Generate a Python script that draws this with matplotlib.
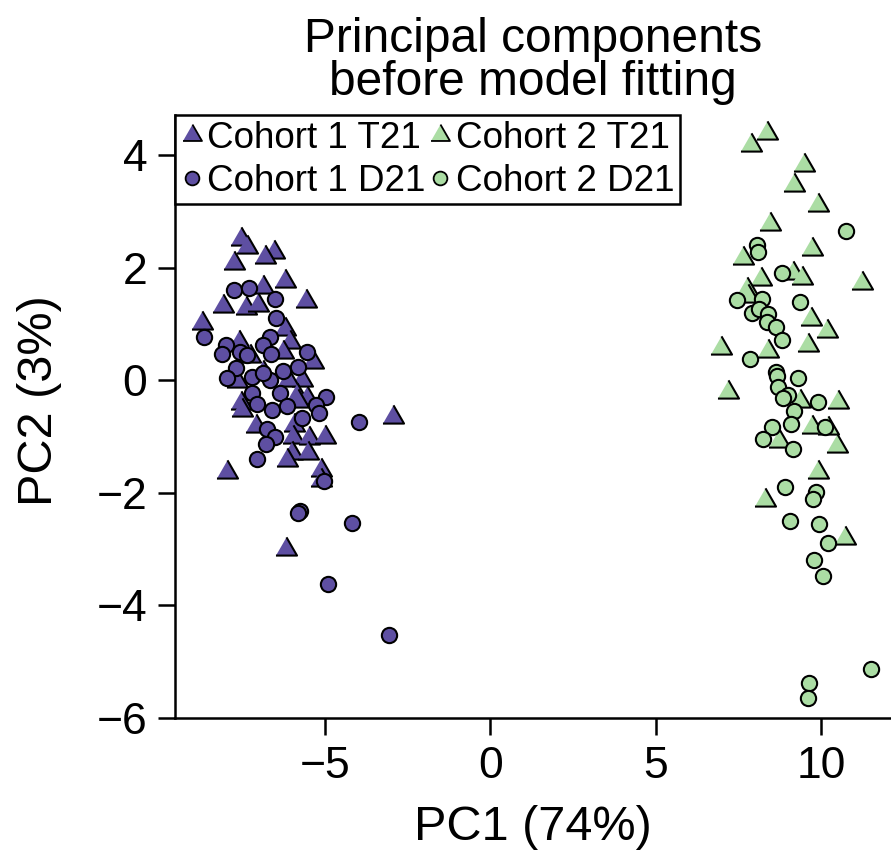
import numpy as np
import matplotlib
matplotlib.use('Agg')
import matplotlib.pyplot as plt
from matplotlib.lines import Line2D

plt.rcParams['font.family'] = ['Liberation Sans', 'DejaVu Sans']

# PCA scores
c1_t21_pc1 = [-7.53, -7.35, -6.53, -6.80, -7.74, -6.20, -6.86, -8.07, -7.38, -7.02,
              -5.56, -8.71, -6.20, -6.05, -7.59, -7.26, -6.26, -5.35, -6.86, -5.69,
              -6.11, -7.65, -5.84, -5.53, -7.53, -7.50, -5.81, -5.93, -7.08, -5.96,
              -5.47, -4.99, -2.93, -5.99, -5.50, -6.14, -7.95, -5.11, -5.11, -6.17]
c1_t21_pc2 = [2.50, 2.36, 2.27, 2.18, 2.08, 1.76, 1.65, 1.31, 1.28, 1.33,
              1.40, 1.01, 0.91, 0.67, 0.67, 0.43, 0.50, 0.32, 0.14, 0.00,
              0.00, -0.02, -0.27, -0.32, -0.41, -0.53, -0.37, -0.80, -0.82, -1.01,
              -1.03, -1.01, -0.66, -1.30, -1.30, -1.42, -1.63, -1.60, -1.78, -3.00]

c1_d21_pc1 = [-7.74, -7.29, -6.50, -6.47, -8.65, -6.65, -6.86, -7.98, -8.10, -7.56,
              -7.35, -6.62, -5.53, -5.81, -6.26, -7.68, -7.95, -7.20, -6.65, -6.86,
              -7.20, -6.35, -4.96, -7.05, -6.59, -6.14, -5.26, -5.17, -5.69, -6.74,
              -6.50, -6.77, -3.96, -7.05, -5.02, -5.75, -5.81, -4.17, -4.90, -3.05]
c1_d21_pc2 = [1.60, 1.63, 1.44, 1.10, 0.76, 0.76, 0.62, 0.62, 0.46, 0.50,
              0.44, 0.46, 0.50, 0.23, 0.16, 0.21, 0.04, 0.05, 0.00, 0.12,
              -0.23, -0.23, -0.30, -0.43, -0.53, -0.46, -0.44, -0.59, -0.67, -0.87,
              -1.01, -1.14, -0.75, -1.40, -1.79, -2.33, -2.36, -2.54, -3.62, -4.53]

c2_t21_pc1 = [8.38, 7.89, 9.50, 9.19, 9.92, 8.47, 9.74, 7.65, 11.25, 8.20,
              9.16, 9.44, 7.77, 7.80, 9.71, 10.19, 6.99, 8.41, 9.62, 7.20,
              9.37, 10.52, 9.74, 10.22, 8.74, 10.49, 9.92, 8.32, 10.73]
c2_t21_pc2 = [4.39, 4.17, 3.82, 3.46, 3.11, 2.77, 2.33, 2.17, 1.72, 1.79,
              1.90, 1.81, 1.62, 1.49, 1.08, 0.87, 0.57, 0.52, 0.62, -0.21,
              -0.37, -0.39, -0.83, -0.85, -1.08, -1.17, -1.63, -2.13, -2.81]

c2_d21_pc1 = [10.77, 8.07, 8.10, 8.83, 9.37, 7.47, 8.23, 7.92, 8.13, 8.41,
              8.38, 8.65, 8.83, 7.86, 8.65, 8.68, 9.31, 8.71, 9.01, 8.86,
              9.92, 9.19, 9.10, 8.53, 10.13, 8.26, 9.16, 8.92, 9.86, 9.77,
              9.07, 9.95, 10.22, 9.80, 10.07, 11.52, 9.65, 9.62]
c2_d21_pc2 = [2.65, 2.40, 2.27, 1.90, 1.39, 1.42, 1.44, 1.19, 1.26, 1.17,
              1.03, 0.94, 0.71, 0.37, 0.14, 0.07, 0.04, -0.12, -0.27, -0.32,
              -0.39, -0.55, -0.78, -0.83, -0.83, -1.05, -1.23, -1.90, -1.99, -2.11,
              -2.50, -2.56, -2.89, -3.20, -3.48, -5.13, -5.38, -5.65]

labels = ['Cohort 1 T21', 'Cohort 1 D21', 'Cohort 2 T21', 'Cohort 2 D21']
purple = '#5E4FA2'
green = '#ABDDA4'

# R style pch=24 triangle (centroid at the point)
tri = [(0, 1.555), (1.347, -0.778), (-1.347, -0.778)]
circ_ms = 11
tri_ms = 17.5

fig = plt.figure(figsize=(8.91, 8.52), dpi=100)
ax = fig.add_axes([175 / 891, 1 - 718 / 852, (891 - 175) / 891, (718 - 115) / 852])

series = [
    (c1_t21_pc1, c1_t21_pc2, tri, tri_ms, purple),
    (c1_d21_pc1, c1_d21_pc2, 'o', circ_ms, purple),
    (c2_t21_pc1, c2_t21_pc2, tri, tri_ms, green),
    (c2_d21_pc1, c2_d21_pc2, 'o', circ_ms, green),
]
handles = []
for (x, y, m, ms, col), lab in zip(series, labels):
    ax.scatter(x, y, marker=m, s=ms ** 2, facecolor=col, edgecolor='black',
               linewidth=1.5, zorder=3)
    handles.append(Line2D([], [], linestyle='none', marker=m, markersize=ms * 0.9,
                          markerfacecolor=col, markeredgecolor='black',
                          markeredgewidth=1.3, label=lab))

ax.set_xlim(-9.53, 12.12)
ax.set_ylim(-6.0, 4.71)
ax.set_xticks([-5, 0, 5, 10])
ax.set_yticks([-6, -4, -2, 0, 2, 4])

for s in ['top', 'right']:
    ax.spines[s].set_visible(False)
for s in ['left', 'bottom']:
    ax.spines[s].set_linewidth(1.8)
ax.tick_params(direction='out', length=12, width=1.8, labelsize=32, pad=8)

ax.set_xlabel('PC1 (74%)', fontsize=35)
ax.xaxis.set_label_coords(0.5, -0.145)
ax.set_ylabel('PC2 (3%)', fontsize=35)
ax.yaxis.set_label_coords(-0.158, 0.527)
ax.set_title('Principal components\nbefore model fitting', fontsize=34.5,
             linespacing=0.93, pad=14.5)

leg = ax.legend(handles=handles, ncol=2, loc='upper left', bbox_to_anchor=(0, 1),
                borderaxespad=0, fontsize=26.5, frameon=True, fancybox=False,
                edgecolor='black', borderpad=0.15, handlelength=0.6,
                handletextpad=0.12, columnspacing=0.1, labelspacing=0.22)
leg.get_frame().set_linewidth(1.8)
leg.get_frame().set_alpha(1)

fig.savefig('out.png', dpi=100)
